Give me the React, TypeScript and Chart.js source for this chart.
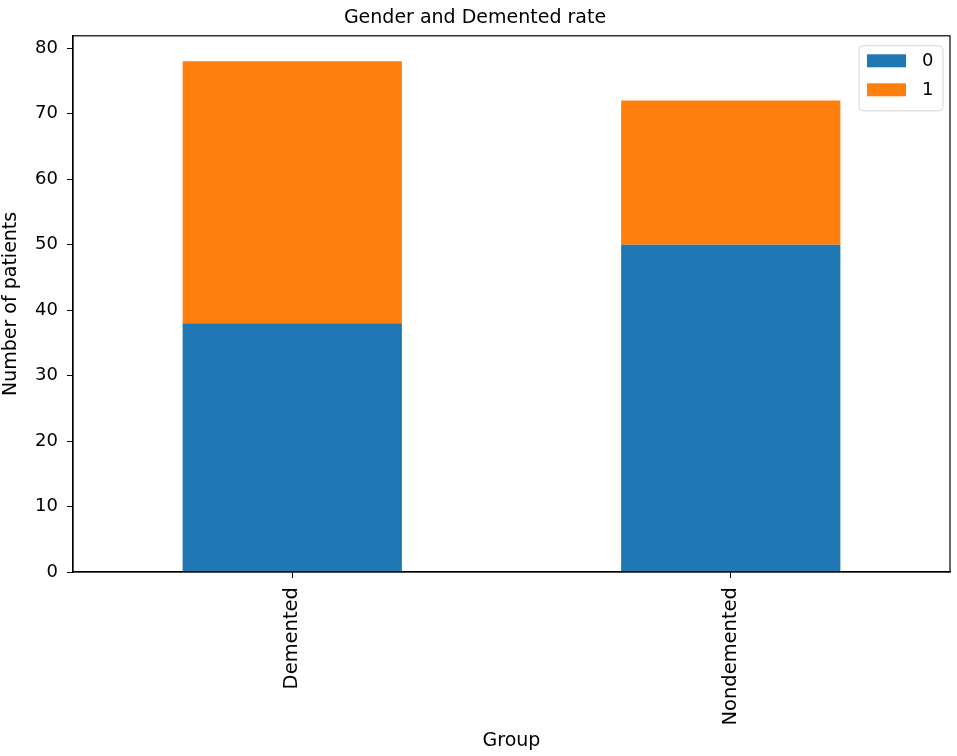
import React, { useEffect, useRef } from "react";
import { Chart, registerables } from "chart.js";

Chart.register(...registerables);

const groups = ["Demented", "Nondemented"];
const genderKeys = ["0", "1"];
const gender0Counts = [38, 50];
const gender1Counts = [40, 22];
const yTickStep = 10;
const yMax = 81.9;

const FONT = "'DejaVu Sans', sans-serif";

// matplotlib-style frame + legend box
const framePlugin = {
  id: "frame",
  afterDraw(chart: any) {
    const { ctx, chartArea } = chart;
    ctx.save();
    ctx.strokeStyle = "#000";
    ctx.lineWidth = 1.2;
    ctx.strokeRect(chartArea.left, chartArea.top, chartArea.right - chartArea.left, chartArea.bottom - chartArea.top);

    // legend
    const bw = 84;
    const bh = 65;
    const bx = chartArea.right - 7 - bw;
    const by = chartArea.top + 10;
    ctx.beginPath();
    ctx.roundRect(bx, by, bw, bh, 4);
    ctx.fillStyle = "rgba(255,255,255,0.8)";
    ctx.fill();
    ctx.strokeStyle = "#d6d6d6";
    ctx.lineWidth = 1;
    ctx.stroke();
    ctx.font = `18px ${FONT}`;
    ctx.textBaseline = "middle";
    ctx.textAlign = "left";
    chart.data.datasets.forEach((ds: any, i: number) => {
      const cy = by + 15 + i * 29;
      ctx.fillStyle = ds.backgroundColor;
      ctx.fillRect(bx + 8, cy - 6.5, 39, 13);
      ctx.fillStyle = "#000";
      ctx.fillText(ds.label, bx + 63, cy + 1);
    });
    ctx.restore();
  },
};

const App: React.FC = () => {
  const canvasRef = useRef<HTMLCanvasElement>(null);
  const chartRef = useRef<Chart | null>(null);

  useEffect(() => {
    if (!canvasRef.current) return;
    if (chartRef.current) chartRef.current.destroy();

    chartRef.current = new Chart(canvasRef.current, {
      type: "bar",
      data: {
        labels: groups,
        datasets: [
          { label: genderKeys[0], data: gender0Counts, backgroundColor: "#1f77b4" },
          { label: genderKeys[1], data: gender1Counts, backgroundColor: "#ff7f0e" },
        ],
      },
      options: {
        responsive: false,
        animation: false,
        layout: { padding: { left: 0, right: 7, top: 0, bottom: 0 } },
        datasets: {
          bar: { categoryPercentage: 1, barPercentage: 0.5 },
        },
        plugins: {
          legend: { display: false },
          tooltip: { enabled: false },
          title: {
            display: true,
            text: "Gender and Demented rate",
            color: "#000",
            font: { family: FONT, size: 19, weight: "normal" },
            padding: { top: 7, bottom: 6 },
          },
        },
        scales: {
          x: {
            stacked: true,
            afterFit: (scale: any) => {
              scale.height = 184;
            },
            grid: { display: true, offset: false, drawOnChartArea: false, drawTicks: true, tickLength: 6, color: "#000" },
            border: { display: true, color: "#000", width: 1.2 },
            ticks: {
              color: "#000",
              font: { family: FONT, size: 19.5 },
              minRotation: 90,
              maxRotation: 90,
              padding: 9,
            },
            title: {
              display: true,
              text: "Group",
              color: "#000",
              font: { family: FONT, size: 19 },
              padding: { top: 0, bottom: 4 },
            },
          },
          y: {
            stacked: true,
            min: 0,
            max: yMax,
            afterFit: (scale: any) => {
              scale.width = 73;
            },
            grid: { display: true, drawOnChartArea: false, drawTicks: true, tickLength: 6, color: "#000" },
            border: { display: true, color: "#000", width: 1.2 },
            ticks: {
              stepSize: yTickStep,
              includeBounds: false,
              color: "#000",
              font: { family: FONT, size: 18 },
              padding: 9,
            },
            title: {
              display: true,
              text: "Number of patients",
              color: "#000",
              font: { family: FONT, size: 19 },
              padding: { top: 0, bottom: 0 },
            },
          },
        },
      },
      plugins: [framePlugin],
    });

    return () => {
      if (chartRef.current) {
        chartRef.current.destroy();
        chartRef.current = null;
      }
    };
  }, []);

  return (
    <div style={{ position: "fixed", left: 0, top: 0, width: 957, height: 756, background: "#fff" }}>
      <canvas ref={canvasRef} width={957} height={756} style={{ width: 957, height: 756 }}></canvas>
    </div>
  );
};

export default App;
